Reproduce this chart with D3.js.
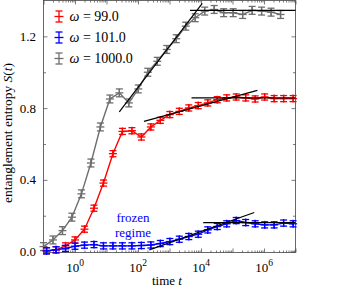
<!DOCTYPE html>
<html>
<head>
<meta charset="utf-8">
<script src="https://cdn.jsdelivr.net/npm/d3@7"></script>
<style>
  body { margin: 0; background: #fff; }
  svg { display: block; }
  text { font-family: "Liberation Serif", "DejaVu Serif", serif; }
</style>
</head>
<body>
<svg id="chart" width="339" height="287"></svg>
<script>
// times (log spaced) for the omega = 1000 run
var tGray = [0.1, 0.2, 0.4, 0.8, 1.6, 3.2, 6.4, 12.8, 25.6, 51.2, 102.4, 204.8, 409.6,
  819.2, 1638.4, 3276.8, 6553.6, 13107.2, 26214.4, 52428.8, 104857.6, 209715.2,
  419430.4, 838860.8, 1677721.6, 3355443.2];
// times for the omega = 99 and 101 runs
var tRB = [0.125, 0.25, 0.5, 1, 2, 4, 8, 16, 32, 64, 128, 256, 512, 1024, 2048, 4096,
  8192, 16384, 32768, 65536, 131072, 262144, 524288, 1048576, 2097152, 4194304, 8388608];

var sGray = [0.028, 0.065, 0.117, 0.192, 0.322, 0.494, 0.695, 0.851, 0.885, 0.829, 0.907,
  1.0, 1.061, 1.127, 1.187, 1.257, 1.304, 1.341, 1.35, 1.332, 1.332, 1.322, 1.345,
  1.341, 1.335, 1.322];
var sRed = [0.005, 0.01, 0.032, 0.065, 0.125, 0.242, 0.382, 0.546, 0.67, 0.674, 0.639,
  0.695, 0.732, 0.764, 0.782, 0.801, 0.814, 0.829, 0.847, 0.857, 0.862, 0.857, 0.851,
  0.862, 0.853, 0.853, 0.853];
var sBlue = [0.004, 0.01, 0.018, 0.03, 0.036, 0.039, 0.032, 0.032, 0.032, 0.032, 0.034,
  0.037, 0.045, 0.056, 0.069, 0.084, 0.097, 0.121, 0.14, 0.155, 0.173, 0.162, 0.155,
  0.149, 0.149, 0.159, 0.155];

// error bar half-heights per series
var errGray = 0.022;
var errRed = 0.017;
var errBlue = 0.017;

var series = [
  {name: "99.0", t: tRB, s: sRed, err: errRed, color: "#ff0000"},
  {name: "101.0", t: tRB, s: sBlue, err: errBlue, color: "#0000ff"},
  {name: "1000.0", t: tGray, s: sGray, err: errGray, color: "#6e6e6e"}
];

// black fit lines: [t0, S0, t1, S1]
var fits = [
  [25.5, 0.779, 11000, 1.384],
  [4470, 1.345, 1e7, 1.345],
  [155, 0.726, 617000, 0.899],
  [5000, 0.857, 1e7, 0.857],
  [229, 0.0095, 490000, 0.218],
  [11750, 0.162, 1e7, 0.162]
];

var yTicks = [0, 0.4, 0.8, 1.2];
var yMinor = [0.2, 0.6, 1.0];
var xLabelExp = [0, 2, 4, 6];

var svg = d3.select("#chart");
var pL = 43.5, pR = 295.5, pT = 0.5, pB = 252.5;

var x = d3.scaleLog().domain([0.1, 1e7]).range([pL, pR]);
var y = d3.scaleLinear().domain([-0.005, 1.4]).range([pB, pT]);

var majorX = d3.range(-1, 8).map(function (e) { return Math.pow(10, e); });
var minorX = [];
majorX.forEach(function (m) {
  for (var k = 2; k <= 9; k++) {
    if (m * k < 1e7) minorX.push(m * k);
  }
});

function styleAxis(g) {
  g.select(".domain").remove();
  g.selectAll("line").attr("stroke", "#444").attr("stroke-width", 0.7);
  g.selectAll("text").remove();
}

// ticks, all pointing inward
svg.append("g").attr("transform", "translate(0," + pB + ")")
  .call(d3.axisBottom(x).tickValues(majorX).tickSize(-4)).call(styleAxis);
svg.append("g").attr("transform", "translate(0," + pB + ")")
  .call(d3.axisBottom(x).tickValues(minorX).tickSize(-2)).call(styleAxis);
svg.append("g").attr("transform", "translate(0," + pT + ")")
  .call(d3.axisTop(x).tickValues(majorX).tickSize(-4)).call(styleAxis);
svg.append("g").attr("transform", "translate(0," + pT + ")")
  .call(d3.axisTop(x).tickValues(minorX).tickSize(-2)).call(styleAxis);
svg.append("g").attr("transform", "translate(" + pL + ",0)")
  .call(d3.axisLeft(y).tickValues(yTicks).tickSize(-4)).call(styleAxis);
svg.append("g").attr("transform", "translate(" + pL + ",0)")
  .call(d3.axisLeft(y).tickValues(yMinor).tickSize(-2.5)).call(styleAxis);
svg.append("g").attr("transform", "translate(" + pR + ",0)")
  .call(d3.axisRight(y).tickValues(yTicks).tickSize(-4)).call(styleAxis);
svg.append("g").attr("transform", "translate(" + pR + ",0)")
  .call(d3.axisRight(y).tickValues(yMinor).tickSize(-2.5)).call(styleAxis);

// frame
svg.append("rect")
  .attr("x", pL).attr("y", pT)
  .attr("width", pR - pL).attr("height", pB - pT)
  .attr("fill", "none").attr("stroke", "#444").attr("stroke-width", 0.8);

// tick labels
svg.selectAll(".ylab").data(yTicks).enter().append("text")
  .attr("x", 36).attr("y", function (d) { return y(d) + 4.5; })
  .attr("text-anchor", "end").attr("font-size", 13)
  .text(function (d) { return d.toFixed(1); });

var xl = svg.selectAll(".xlab").data(xLabelExp).enter().append("text")
  .attr("x", function (d) { return x(Math.pow(10, d)); })
  .attr("y", 271.5).attr("text-anchor", "middle").attr("font-size", 13);
xl.append("tspan").text("10");
xl.append("tspan").attr("dy", -5.5).attr("font-size", 9.5).text(function (d) { return d; });

// axis titles
var xt = svg.append("text").attr("x", 167).attr("y", 284.5)
  .attr("text-anchor", "middle").attr("font-size", 13);
xt.append("tspan").text("time ");
xt.append("tspan").attr("font-style", "italic").text("t");

var yt = svg.append("text")
  .attr("transform", "translate(11.5," + 133 + ") rotate(-90)")
  .attr("text-anchor", "middle").attr("font-size", 13.5);
yt.append("tspan").text("entanglement entropy ");
yt.append("tspan").attr("font-style", "italic").text("S");
yt.append("tspan").text("(");
yt.append("tspan").attr("font-style", "italic").text("t");
yt.append("tspan").text(")");

var plot = svg.append("g");

var line = d3.line()
  .x(function (d) { return x(d[0]); })
  .y(function (d) { return y(d[1]); });

function drawSeries(sr) {
  var pts = sr.t.map(function (t, i) { return [t, sr.s[i]]; });
  var g = plot.append("g");
  g.append("path").datum(pts)
    .attr("d", line).attr("fill", "none")
    .attr("stroke", sr.color).attr("stroke-width", 1.4);
  var m = g.selectAll("g").data(pts).enter().append("g")
    .attr("transform", function (d) { return "translate(" + x(d[0]) + "," + y(d[1]) + ")"; })
    .attr("stroke", sr.color).attr("stroke-width", 1.3);
  var eh = y(0) - y(sr.err);
  m.append("line").attr("x1", 0).attr("x2", 0).attr("y1", -eh).attr("y2", eh);
  m.append("line").attr("x1", -3.5).attr("x2", 3.5).attr("y1", -eh).attr("y2", -eh);
  m.append("line").attr("x1", -3.5).attr("x2", 3.5).attr("y1", eh).attr("y2", eh);
  m.append("line").attr("x1", -4).attr("x2", 4).attr("y1", 0).attr("y2", 0);
  m.append("line").attr("x1", 0).attr("x2", 0).attr("y1", -4).attr("y2", 4);
}

// gray first, then red, blue on top
drawSeries(series[2]);
drawSeries(series[0]);
drawSeries(series[1]);

plot.selectAll(".fit").data(fits).enter().append("line")
  .attr("x1", function (d) { return x(d[0]); })
  .attr("y1", function (d) { return y(d[1]); })
  .attr("x2", function (d) { return x(d[2]); })
  .attr("y2", function (d) { return y(d[3]); })
  .attr("stroke", "#000").attr("stroke-width", 1.2);

// annotation
svg.append("text").attr("x", 133).attr("y", 222).attr("text-anchor", "middle")
  .attr("font-size", 13).attr("fill", "#0000ff").text("frozen");
svg.append("text").attr("x", 133).attr("y", 237).attr("text-anchor", "middle")
  .attr("font-size", 13).attr("fill", "#0000ff").text("regime");

// legend
var leg = svg.selectAll(".leg").data(series).enter().append("g")
  .attr("transform", function (d, i) { return "translate(59," + (16.5 + i * 21) + ")"; });
leg.each(function (d) {
  var g = d3.select(this).append("g").attr("stroke", d.color).attr("stroke-width", 1.3);
  g.append("line").attr("x1", 0).attr("x2", 0).attr("y1", -5.5).attr("y2", 5.5);
  g.append("line").attr("x1", -3.5).attr("x2", 3.5).attr("y1", -5.5).attr("y2", -5.5);
  g.append("line").attr("x1", -3.5).attr("x2", 3.5).attr("y1", 5.5).attr("y2", 5.5);
  g.append("line").attr("x1", -4.5).attr("x2", 4.5).attr("y1", 0).attr("y2", 0);
});
var lt = leg.append("text").attr("x", 10.5).attr("y", 4.5).attr("font-size", 14);
lt.append("tspan").attr("font-style", "italic").text("ω");
lt.append("tspan").text(function (d) { return " = " + d.name; });
</script>
</body>
</html>
